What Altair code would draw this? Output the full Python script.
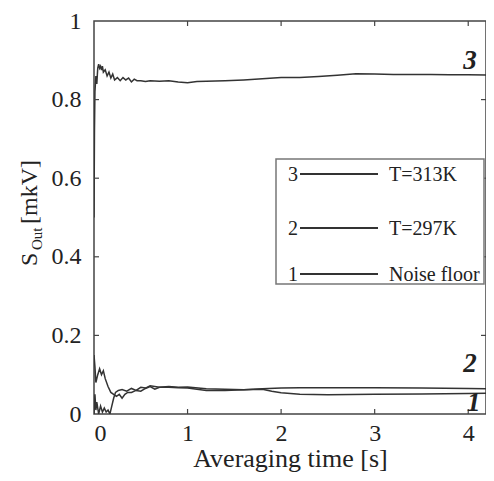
import altair as alt
import pandas as pd

# ---- data ----
x3 = [0, 0.005, 0.01, 0.02, 0.03, 0.04, 0.05, 0.06, 0.07, 0.08, 0.09, 0.10, 0.12, 0.14, 0.16, 0.18,
      0.20, 0.22, 0.25, 0.28, 0.31, 0.34, 0.37, 0.40, 0.43, 0.46, 0.50, 0.55, 0.60, 0.70, 0.80, 0.90,
      1.00, 1.10, 1.20, 1.40, 1.60, 1.80, 2.00, 2.20, 2.40, 2.60, 2.80, 3.00, 3.20, 3.40, 3.60, 3.80,
      4.00, 4.27]
y3 = [0.50, 0.72, 0.82, 0.86, 0.84, 0.88, 0.89, 0.88, 0.885, 0.875, 0.885, 0.87, 0.876, 0.86, 0.87, 0.855,
      0.865, 0.85, 0.856, 0.848, 0.856, 0.85, 0.855, 0.845, 0.852, 0.848, 0.848, 0.846, 0.848, 0.847, 0.848, 0.845,
      0.843, 0.846, 0.847, 0.848, 0.850, 0.853, 0.856, 0.856, 0.859, 0.862, 0.866, 0.865, 0.864, 0.864, 0.864, 0.863,
      0.863, 0.862]

x2 = [0, 0.01, 0.02, 0.04, 0.06, 0.08, 0.10, 0.12, 0.15, 0.18, 0.21, 0.24, 0.27, 0.30, 0.33, 0.36,
      0.40, 0.45, 0.50, 0.55, 0.60, 0.65, 0.70, 0.80, 0.90, 1.00, 1.20, 1.40, 1.60, 1.80, 2.00, 2.20,
      2.50, 3.00, 3.50, 4.00, 4.27]
y2 = [0.15, 0.12, 0.08, 0.10, 0.115, 0.10, 0.11, 0.09, 0.07, 0.055, 0.05, 0.045, 0.05, 0.04, 0.05, 0.055,
      0.055, 0.06, 0.058, 0.065, 0.07, 0.063, 0.068, 0.07, 0.068, 0.069, 0.064, 0.063, 0.062, 0.064, 0.066, 0.067,
      0.067, 0.067, 0.066, 0.065, 0.064]

x1 = [0, 0.01, 0.02, 0.03, 0.05, 0.07, 0.09, 0.11, 0.13, 0.15, 0.17, 0.19, 0.21, 0.23, 0.26, 0.30,
      0.35, 0.40, 0.45, 0.50, 0.55, 0.60, 0.70, 0.80, 0.90, 1.00, 1.20, 1.40, 1.60, 1.80, 1.90, 2.00,
      2.20, 2.50, 3.00, 3.50, 4.00, 4.27]
y1 = [0.0, 0.05, 0.01, 0.03, 0.0, 0.02, 0.005, 0.015, 0.005, 0.01, 0.0, 0.02, 0.04, 0.055, 0.06, 0.062,
      0.058, 0.065, 0.06, 0.068, 0.066, 0.072, 0.068, 0.068, 0.067, 0.066, 0.06, 0.06, 0.062, 0.063, 0.058, 0.054,
      0.05, 0.049, 0.05, 0.051, 0.052, 0.053]

y_ticks = [0, 0.2, 0.4, 0.6, 0.8, 1.0]
x_ticks = [0, 1, 2, 3, 4]

legend_nums = ["3", "2", "1"]
legend_labels = ["T=313K", "T=297K", "Noise floor"]

curve_tags = ["3", "2", "1"]
tag_x = [4.02, 4.02, 4.06]
tag_y = [0.898, 0.127, 0.027]

# ---- styling ----
FONT = "Liberation Serif"
INK = "#222222"
LINE = "#333333"
W, H = 392, 393
xs = alt.Scale(domain=[0, 4.19], nice=False, zero=False)
ys = alt.Scale(domain=[0, 1], nice=False)

x_axis = alt.Axis(
    values=x_ticks, format="d", title="Averaging time [s]",
    labelFont=FONT, labelFontSize=24, labelColor=INK, labelPadding=7,
    titleFont=FONT, titleFontSize=26, titleFontWeight="normal", titleColor=INK, titlePadding=0,
    ticks=False, domain=False, grid=False)
y_axis = alt.Axis(
    values=y_ticks, format=".1~f", title="",
    labelFont=FONT, labelFontSize=24, labelColor=INK, labelPadding=13,
    ticks=False, domain=False, grid=False)


def X(field):
    return alt.X(field, scale=xs, axis=x_axis, title="Averaging time [s]")


def Y(field):
    return alt.Y(field, scale=ys, axis=y_axis, title="")


curves = pd.concat([
    pd.DataFrame({"t": x3, "s": y3, "series": "3"}),
    pd.DataFrame({"t": x2, "s": y2, "series": "2"}),
    pd.DataFrame({"t": x1, "s": y1, "series": "1"}),
])

lines = alt.Chart(curves).mark_line(color=LINE, strokeWidth=1.5, clip=True).encode(
    x=X("t:Q"), y=Y("s:Q"), detail="series:N")

ytk = pd.DataFrame({"v": y_ticks[1:-1]})
xtk = pd.DataFrame({"v": x_ticks[1:]})
tick_style = dict(color="#444444", strokeWidth=1.2)
left_ticks = alt.Chart(ytk).mark_rule(**tick_style).encode(
    y=Y("v:Q"), x=alt.value(0), x2=alt.value(5))
right_ticks = alt.Chart(ytk).mark_rule(**tick_style).encode(
    y=Y("v:Q"), x=alt.value(W - 5), x2=alt.value(W))
bottom_ticks = alt.Chart(xtk).mark_rule(**tick_style).encode(
    x=X("v:Q"), y=alt.value(H - 5), y2=alt.value(H))
top_ticks = alt.Chart(xtk).mark_rule(**tick_style).encode(
    x=X("v:Q"), y=alt.value(0), y2=alt.value(5))

tags = alt.Chart(pd.DataFrame({"x": tag_x, "y": tag_y, "tag": curve_tags})).mark_text(
    font=FONT, fontSize=27, fontStyle="italic", fontWeight="bold", color=INK,
    align="center", baseline="middle").encode(
    x=X("x:Q"), y=Y("y:Q"), text="tag:N")

# legend box
one = pd.DataFrame({"k": [0]})
legend_box = alt.Chart(one).mark_rect(fill="white", stroke="#777777", strokeWidth=1.5).encode(
    x=alt.value(182), x2=alt.value(390), y=alt.value(138), y2=alt.value(263))
row_y = [153, 207, 253]
legend_layers = [legend_box]
for num, lab, ry in zip(legend_nums, legend_labels, row_y):
    d = pd.DataFrame({"num": [num], "lab": [lab]})
    legend_layers.append(alt.Chart(d).mark_text(
        font=FONT, fontSize=20, color=INK, align="center", baseline="middle").encode(
        x=alt.value(199), y=alt.value(ry + 1), text="num:N"))
    legend_layers.append(alt.Chart(d).mark_rule(color=LINE, strokeWidth=2).encode(
        x=alt.value(206), x2=alt.value(284), y=alt.value(ry)))
    legend_layers.append(alt.Chart(d).mark_text(
        font=FONT, fontSize=20, color=INK, align="left", baseline="middle").encode(
        x=alt.value(295), y=alt.value(ry + 1), text="lab:N"))

# y axis title with subscript
ytitle = [
    alt.Chart(pd.DataFrame({"s": ["S"]})).mark_text(
        font=FONT, fontSize=24, color=INK, angle=270, align="left", baseline="alphabetic").encode(
        x=alt.value(-57), y=alt.value(245), text="s:N"),
    alt.Chart(pd.DataFrame({"s": ["Out"]})).mark_text(
        font=FONT, fontSize=15, color=INK, angle=270, align="left", baseline="alphabetic").encode(
        x=alt.value(-52), y=alt.value(229), text="s:N"),
    alt.Chart(pd.DataFrame({"s": ["[mkV]"]})).mark_text(
        font=FONT, fontSize=24, color=INK, angle=270, align="left", baseline="alphabetic").encode(
        x=alt.value(-57), y=alt.value(203), text="s:N"),
]

chart = alt.layer(
    lines, left_ticks, right_ticks, bottom_ticks, top_ticks, tags, *legend_layers, *ytitle
).properties(
    width=W, height=H,
    autosize=alt.AutoSizeParams(type="none"),
    padding={"left": 86, "top": 13, "right": 0, "bottom": 59},
).configure_view(stroke="#444444", strokeWidth=1.5)

chart.save("out.html", embed_options={"renderer": "svg", "actions": False})
